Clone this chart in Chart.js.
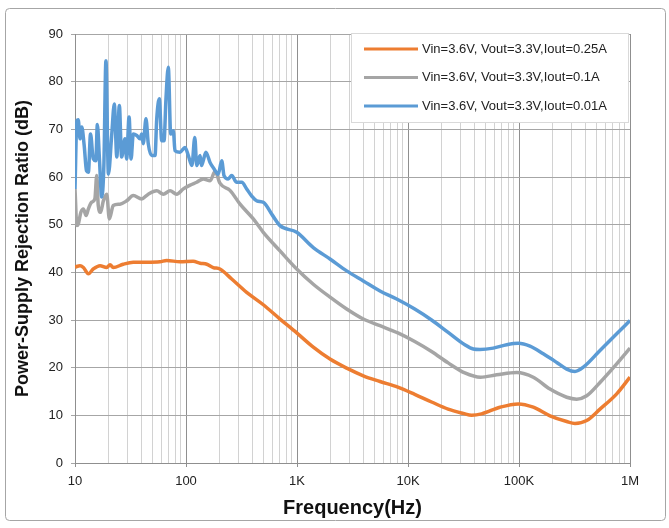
<!DOCTYPE html>
<html>
<head>
<meta charset="utf-8">
<script src="https://cdn.jsdelivr.net/npm/chart.js@4.4.1/dist/chart.umd.min.js"></script>
<style>
  html, body { margin: 0; padding: 0; background: #fff; }
  #wrap { width: 669px; height: 528px; position: relative; }
</style>
</head>
<body>
<div id="wrap"><canvas id="chartCanvas"></canvas></div>
<script>
// Etiquetas del eje X (décadas)
const decades = [10, 100, 1000, 10000, 100000, 1000000];
const decadeLabels = ['10', '100', '1K', '10K', '100K', '1M'];

// Leyenda de cada serie
const seriesNames = [
    'Vin=3.6V, Vout=3.3V,Iout=0.25A',
    'Vin=3.6V, Vout=3.3V,Iout=0.1A',
    'Vin=3.6V, Vout=3.3V,Iout=0.01A'
];
const seriesColors = ['#ED7D31', '#A5A5A5', '#5B9BD5'];

// Iout = 0.25A
const orangeFreq = [10, 11.1, 11.9, 13.2, 14.6, 16.8, 19.3, 20.7, 22.1, 27.2, 33.5, 44.2, 58.3, 67, 88.3,
    116, 134, 154, 176, 202, 258, 352, 497, 703, 994, 1402, 1983, 2803, 3957, 5594,
    8100, 11500, 16300, 23000, 31500, 37500, 46000, 67430, 98560, 134500, 190200, 269000, 319500, 407300, 536700,
    759000, 1000000];
const orangeVals = [41.1, 41.4, 41, 39.7, 40.7, 41.4, 41, 41.6, 41, 41.7, 42.1, 42.1, 42.2, 42.5, 42.2,
    42.3, 41.9, 41.7, 41, 40.7, 38.6, 35.8, 33.2, 30.2, 27.3, 24.3, 21.8, 19.9, 18.3, 17.1,
    15.9, 14.4, 12.8, 11.3, 10.4, 10.0, 10.3, 11.7, 12.4, 11.7, 9.9, 8.7, 8.3, 8.9, 11.3,
    14.5, 18];

// Iout = 0.1A
const grayFreq = [10, 10.4, 10.7, 11.3, 11.9, 12.6, 13.2, 14.1, 15.1, 15.7, 16.2, 17.0, 18.0, 19.3, 20.4,
    22.1, 25.4, 29.2, 33.5, 39.9, 45.7, 54.5, 62.5, 71.8, 82.5, 94.6, 109, 125, 143, 165,
    183, 202, 249, 307, 404, 497, 703, 994, 1402, 1983, 2803, 3957, 5594, 8100, 11500,
    16300, 23000, 32500, 45000, 62970, 95350, 134500, 190200, 269000, 331000, 407300, 536700, 759000, 1000000];
const grayVals = [57.5, 49.8, 50.1, 52.6, 53.3, 51.9, 53.3, 54.7, 55.4, 60.3, 54, 52.6, 55, 56.4, 51.2,
    54, 54.3, 55, 56.1, 55.4, 56.4, 57.1, 56.4, 57.1, 56.4, 57.5, 58.3, 58.9, 59.6, 59.2,
    61.2, 58.7, 57.2, 54.3, 51.2, 48.4, 44.5, 40.7, 37.5, 34.8, 32.3, 30.2, 28.8, 27.3, 25.5,
    23.4, 21.0, 18.9, 18, 18.5, 19, 18, 15.5, 13.8, 13.4, 14.1, 16.9, 20.8, 24.1];

// Iout = 0.01A
const blueFreq = [10, 10.4, 10.7, 11.1, 11.5, 12.1, 12.7, 13.2, 13.8, 14.6, 15.4, 15.9, 16.6, 17.4, 18.2,
    19.0, 20.0, 21.4, 22.6, 23.8, 25.1, 26.3, 28.2, 29.2, 30.7, 32.0, 33.5, 36.0, 38.5, 39.9,
    41.2, 43.6, 45.7, 49.1, 52.6, 54.5, 57.5, 60.4, 63.4, 66.0, 69.3, 72.8, 76.9, 79.6, 88.3,
    98, 105, 113, 120, 125, 134, 138, 143, 151, 165, 179, 195, 210, 220, 240,
    258, 286, 318, 352, 391, 434, 497, 600, 703, 994, 1402, 1983, 2803, 3957, 5594,
    7911, 11500, 16300, 23000, 32500, 38760, 44530, 58690, 77480, 98560, 125600, 165500, 218600, 269000, 319500,
    379600, 536700, 759000, 1000000];
const blueVals = [57.5, 71.8, 72, 68, 70.5, 66.6, 61.3, 61, 69, 63.8, 63.4, 71, 63.8, 55.8, 62.4,
    84.4, 60.6, 68.7, 75.3, 64.2, 75, 64.2, 68, 63.8, 72.6, 63.8, 69, 68.7, 68, 69,
    67, 72.2, 67, 64.5, 64.5, 72.2, 76.4, 67.6, 67.6, 76.4, 83, 69, 69.7, 65.5, 65.2,
    66.2, 64.5, 62.4, 68.3, 62.4, 64.5, 62.4, 63.4, 65.2, 63, 61.7, 60.6, 63.4, 60.3, 59.6,
    60.3, 58.9, 58.9, 57.5, 56, 55, 54.7, 52, 49.8, 48.4, 45.2, 42.8, 40.3, 38.2, 36.1,
    34.4, 32.3, 30.0, 27.4, 24.8, 23.9, 23.8, 24.1, 24.8, 25.1, 24.5, 22.9, 21.1, 19.7, 19.2,
    20.1, 23.6, 27.1, 29.9];

const FONT = '"Liberation Sans", Arial, sans-serif';

function toPoints(freq, vals) {
    return freq.map((f, i) => ({ x: f, y: vals[i] }));
}

function isDecade(v) {
    return decades.indexOf(v) !== -1;
}

// Marco gris redondeado alrededor de todo el gráfico
const framePlugin = {
    id: 'frame',
    beforeDraw(chart) {
        const ctx = chart.ctx;
        ctx.save();
        ctx.fillStyle = '#fff';
        ctx.fillRect(0, 0, chart.width, chart.height);
        ctx.strokeStyle = '#a6a6a6';
        ctx.lineWidth = 1;
        ctx.beginPath();
        ctx.roundRect(5.5, 8.5, 660, 512, 4);
        ctx.stroke();
        ctx.restore();
    }
};

// Leyenda dentro del área de trazado, arriba a la derecha
const legendPlugin = {
    id: 'boxLegend',
    afterDatasetsDraw(chart) {
        const ctx = chart.ctx;
        const area = chart.chartArea;
        const w = 277, h = 89;
        const x = area.right - w - 2, y = area.top - 1;
        ctx.save();
        ctx.fillStyle = '#fff';
        ctx.fillRect(x, y, w, h);
        ctx.strokeStyle = '#d9d9d9';
        ctx.lineWidth = 1;
        ctx.strokeRect(x + 0.5, y + 0.5, w, h);
        ctx.font = '13px ' + FONT;
        ctx.textBaseline = 'middle';
        ctx.fillStyle = '#222';
        chart.data.datasets.forEach((ds, i) => {
            const ly = y + 16 + i * 28.5;
            ctx.strokeStyle = ds.borderColor;
            ctx.lineWidth = 3;
            ctx.beginPath();
            ctx.moveTo(x + 13, ly);
            ctx.lineTo(x + 67, ly);
            ctx.stroke();
            ctx.fillText(ds.label, x + 71, ly);
        });
        ctx.restore();
    }
};

const ctx = document.getElementById('chartCanvas').getContext('2d');

const chart = new Chart(ctx, {
    type: 'line',
    data: {
        datasets: [
            { label: seriesNames[0], data: toPoints(orangeFreq, orangeVals), borderColor: seriesColors[0], order: 3 },
            { label: seriesNames[1], data: toPoints(grayFreq, grayVals), borderColor: seriesColors[1], order: 2 },
            { label: seriesNames[2], data: toPoints(blueFreq, blueVals), borderColor: seriesColors[2], order: 1 }
        ]
    },
    plugins: [framePlugin, legendPlugin],
    options: {
        responsive: true,
        maintainAspectRatio: false,
        animation: false,
        layout: { padding: { top: 34, right: 39, left: 0, bottom: 0 } },
        plugins: { legend: { display: false }, tooltip: { enabled: false } },
        elements: {
            point: { radius: 0 },
            line: { borderWidth: 3.5, cubicInterpolationMode: 'monotone', fill: false }
        },
        scales: {
            x: {
                type: 'logarithmic',
                min: 10,
                max: 1000000,
                afterBuildTicks: scale => {
                    // líneas de rejilla 1..9 por década
                    const t = [];
                    for (let d = 0; d < decades.length - 1; d++) {
                        for (let m = 1; m < 10; m++) t.push({ value: decades[d] * m });
                    }
                    t.push({ value: decades[decades.length - 1] });
                    scale.ticks = t;
                },
                afterFit: scale => { scale.height = 65; },
                ticks: {
                    autoSkip: false,
                    maxRotation: 0,
                    padding: 7,
                    color: '#222',
                    font: { family: FONT, size: 13 },
                    callback: v => {
                        const i = decades.indexOf(v);
                        return i === -1 ? '' : decadeLabels[i];
                    }
                },
                grid: {
                    color: c => isDecade(c.tick.value) ? '#8f8f8f' : '#d2d2d2',
                    tickColor: c => isDecade(c.tick.value) ? '#8f8f8f' : 'rgba(0,0,0,0)',
                    tickLength: 4,
                    lineWidth: 1
                },
                border: { color: '#8f8f8f' },
                title: {
                    display: true,
                    text: 'Frequency(Hz)',
                    color: '#111',
                    font: { family: FONT, size: 20, weight: 'bold' },
                    padding: { top: 0, bottom: 8 }
                }
            },
            y: {
                min: 0,
                max: 90,
                afterFit: scale => { scale.width = 75; },
                ticks: {
                    stepSize: 10,
                    padding: 8,
                    color: '#222',
                    font: { family: FONT, size: 13 }
                },
                grid: { color: '#a6a6a6', tickLength: 4, lineWidth: 1 },
                border: { color: '#8f8f8f' },
                title: {
                    display: true,
                    text: 'Power-Supply Rejection Ratio (dB)',
                    color: '#111',
                    font: { family: FONT, size: 18, weight: 'bold' },
                    padding: { top: 12, bottom: 0 }
                }
            }
        }
    }
});
</script>
</body>
</html>
